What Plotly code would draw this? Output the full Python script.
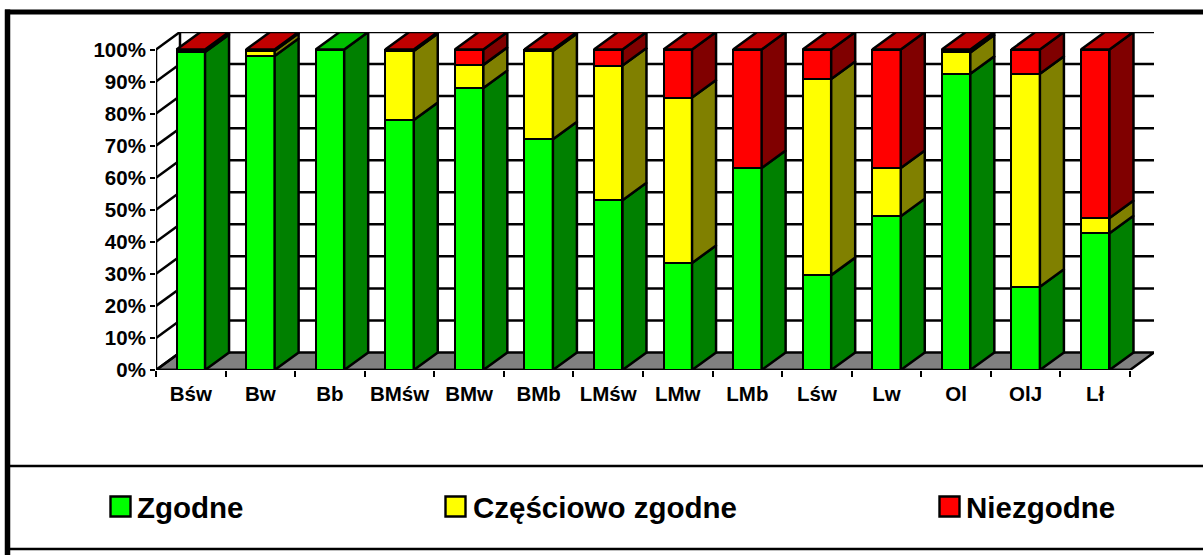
import plotly.graph_objects as go

categories = ["Bśw", "Bw", "Bb", "BMśw", "BMw", "BMb", "LMśw", "LMw", "LMb", "Lśw", "Lw", "Ol", "OlJ", "Lł"]
zgodne = [99.2, 98, 100, 78, 88, 72, 53, 33.4, 63, 29.6, 48, 92.4, 26, 42.7]
czesciowo = [0, 1.6, 0, 21.5, 7.2, 27.5, 42, 51.6, 0, 61.2, 15, 6.7, 66.4, 4.7]
niezgodne = [0.8, 0.4, 0, 0.5, 4.8, 0.5, 5, 15, 37, 9.2, 37, 0.9, 7.6, 52.6]
y_ticks = [0, 10, 20, 30, 40, 50, 60, 70, 80, 90, 100]
y_tick_labels = ["0%", "10%", "20%", "30%", "40%", "50%", "60%", "70%", "80%", "90%", "100%"]

series = [
    ("Zgodne", zgodne, "#00FF00", "#008000", "#00C000"),
    ("Częściowo zgodne", czesciowo, "#FFFF00", "#808000", "#C0C000"),
    ("Niezgodne", niezgodne, "#FF0000", "#800000", "#C00000"),
]

W, H = 1203, 555
L, R, T, B = 156, 1154, 32, 370          # plot area in page pixels
DX = 24 / (974 / 14)                     # depth in category units
DY = 17.5 / 3.205                        # depth in percent units
BAR = 0.41
x_rng = [-0.5, 13.5 + DX]
y_rng = [0, 100 + DY]
INK = "#000000"
LW = 2.5


def px(v):
    return (v - L) / (R - L)


def py(v):
    return (B - v) / (B - T)


fig = go.Figure()

# front faces
for name, vals, front, side, top in series:
    fig.add_trace(go.Bar(x=categories, y=vals, name=name, width=BAR, showlegend=False,
                         marker=dict(color=front, line=dict(color=INK, width=LW)),
                         hovertemplate="%{x}: %{y}%<extra>" + name + "</extra>"))

# side and top faces, derived from the stacked values
for i in range(len(categories)):
    base = 0
    right = i + BAR / 2
    left = i - BAR / 2
    for name, vals, front, side, top in series:
        v = vals[i]
        if v > 0:
            fig.add_trace(go.Scatter(
                x=[right, right + DX, right + DX, right, right],
                y=[base, base + DY, base + v + DY, base + v, base],
                xaxis="x2", yaxis="y",
                mode="lines", fill="toself", fillcolor=side, line=dict(color=INK, width=LW),
                showlegend=False, hoverinfo="skip"))
            base += v
            last_top = top
    fig.add_trace(go.Scatter(
        x=[left, left + DX, right + DX, right, left],
        y=[base, base + DY, base + DY, base, base],
        xaxis="x2", yaxis="y",
        mode="lines", fill="toself", fillcolor=last_top, line=dict(color=INK, width=LW),
        showlegend=False, hoverinfo="skip"))

# walls and floor behind the bars
x0, x1 = -0.5, 13.5
shapes = [
    dict(type="path", layer="below", xref="x", yref="y",
         path=f"M {x0} 0 L {x0 + DX} {DY} L {x1 + DX} {DY} L {x1} 0 Z",
         fillcolor="#808080", line=dict(color=INK, width=LW)),
    dict(type="line", layer="below", xref="x", yref="y", x0=x0 + DX, x1=x0 + DX, y0=DY, y1=100 + DY,
         line=dict(color=INK, width=LW)),
    dict(type="line", layer="below", xref="x", yref="y", x0=x0, x1=x0, y0=0, y1=100,
         line=dict(color=INK, width=LW)),
    dict(type="line", layer="below", xref="x", yref="y", x0=x0, x1=x1, y0=0, y1=0,
         line=dict(color=INK, width=LW)),
]
for t in y_ticks:
    shapes.append(dict(type="line", layer="below", xref="x", yref="y", x0=x0, x1=x0 + DX, y0=t, y1=t + DY,
                       line=dict(color=INK, width=LW)))
    if t > 0:
        shapes.append(dict(type="line", layer="below", xref="x", yref="y", x0=x0 + DX, x1=x1 + DX,
                           y0=t + DY, y1=t + DY, line=dict(color=INK, width=LW)))


# chart frame and legend box
def frame_line(a, b, c, d, w):
    return dict(type="line", xref="paper", yref="paper", x0=px(a), x1=px(b), y0=py(c), y1=py(d),
                line=dict(color=INK, width=w), layer="above")


shapes += [
    frame_line(5, W, 12, 12, 5),
    frame_line(7.5, 7.5, 9.5, H, 5.5),
    frame_line(10, W, 466, 466, 2.6),
    frame_line(10, W, 549, 549, 2.6),
]

# legend row
legend_x = [(110.5, 130.5), (445.5, 465.5), (939.5, 959.5)]
legend_text_x = [135, 471, 964]
annotations = []
for (name, vals, front, side, top), (a, b), tx in zip(series, legend_x, legend_text_x):
    shapes.append(dict(type="rect", xref="paper", yref="paper", x0=px(a), x1=px(b), y0=py(516.5), y1=py(496.5),
                       fillcolor=front, line=dict(color=INK, width=2.4)))
    annotations.append(dict(text=name, xref="paper", yref="paper", x=px(tx), y=py(507), xanchor="left",
                            yanchor="middle", showarrow=False,
                            font=dict(family="Liberation Sans", size=29.5, color=INK, weight="bold")))

fig.update_layout(
    barmode="stack", bargap=0, width=W, height=H, autosize=False,
    margin=dict(l=L, r=W - R, t=T, b=H - B, pad=0),
    paper_bgcolor="white", plot_bgcolor="rgba(0,0,0,0)", showlegend=False,
    font=dict(family="Liberation Sans", color=INK, weight="bold"),
    shapes=shapes, annotations=annotations,
    xaxis=dict(type="category", categoryorder="array", categoryarray=categories, range=x_rng,
               tickson="boundaries", ticks="outside", ticklen=6, tickwidth=2.2, tickcolor=INK,
               showgrid=False, zeroline=False, showline=False, ticklabelstandoff=9,
               tickfont=dict(size=20.5, family="Liberation Sans", color=INK, weight="bold")),
    xaxis2=dict(type="linear", range=x_rng, overlaying="x", anchor="y", visible=False),
    yaxis=dict(range=y_rng, tickmode="array", tickvals=y_ticks, ticktext=y_tick_labels,
               ticks="outside", ticklen=5, tickwidth=2.2, tickcolor=INK, showgrid=False, zeroline=False,
               showline=False,
               tickfont=dict(size=20.5, family="Liberation Sans", color=INK, weight="bold")),
)

fig.write_html("out.html", config=dict(displayModeBar=False),
               post_script="document.body.style.margin='0';document.documentElement.style.overflow='hidden';")
